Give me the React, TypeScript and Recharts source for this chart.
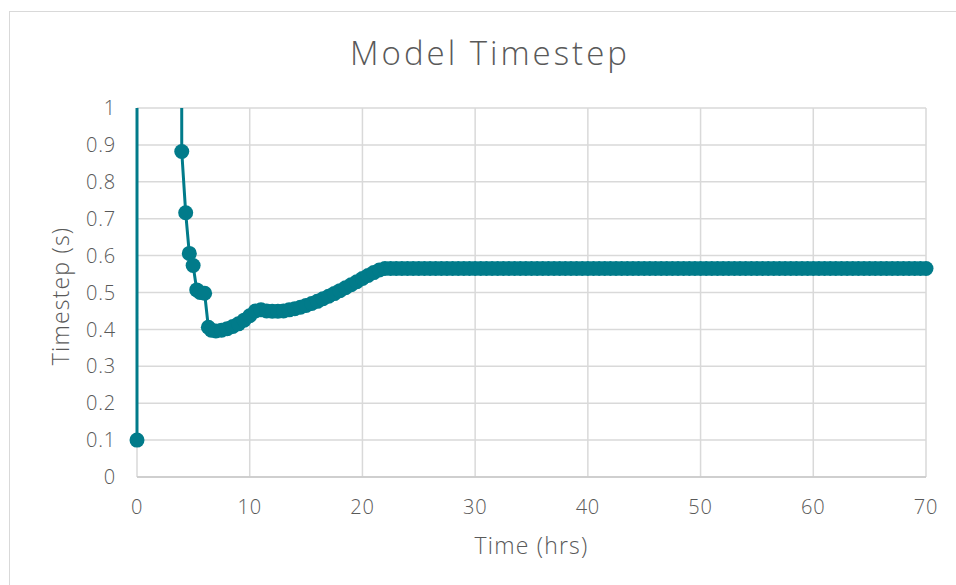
import { CartesianGrid, Line, LineChart, XAxis, YAxis } from "recharts";

// Time axis (hours) and model timestep (seconds).
// The second and third points sit above the 1 s axis limit and are clipped.
const TIME_HRS = [
  0, 0.01, 3.93, 3.97, 4.32, 4.64, 4.98, 5.3, 5.6, 6.0, 6.33, 6.6,
  7.0, 7.5, 8.0, 8.5, 9.0, 9.5, 10.0, 10.5, 11.0, 11.5,
  12.0, 12.5, 13.0, 13.5, 14.0, 14.5, 15.0, 15.5, 16.0, 16.5,
  17.0, 17.5, 18.0, 18.5, 19.0, 19.5, 20.0, 20.5, 21.0, 21.5,
  22.0, 22.5, 23.0, 23.5, 24.0, 24.5, 25.0, 25.5, 26.0, 26.5,
  27.0, 27.5, 28.0, 28.5, 29.0, 29.5, 30.0, 30.5, 31.0, 31.5,
  32.0, 32.5, 33.0, 33.5, 34.0, 34.5, 35.0, 35.5, 36.0, 36.5,
  37.0, 37.5, 38.0, 38.5, 39.0, 39.5, 40.0, 40.5, 41.0, 41.5,
  42.0, 42.5, 43.0, 43.5, 44.0, 44.5, 45.0, 45.5, 46.0, 46.5,
  47.0, 47.5, 48.0, 48.5, 49.0, 49.5, 50.0, 50.5, 51.0, 51.5,
  52.0, 52.5, 53.0, 53.5, 54.0, 54.5, 55.0, 55.5, 56.0, 56.5,
  57.0, 57.5, 58.0, 58.5, 59.0, 59.5, 60.0, 60.5, 61.0, 61.5,
  62.0, 62.5, 63.0, 63.5, 64.0, 64.5, 65.0, 65.5, 66.0, 66.5,
  67.0, 67.5, 68.0, 68.5, 69.0, 69.5, 70.0,
];

const TIMESTEP_S = [
  0.1, 10, 3.0, 0.882, 0.716, 0.606, 0.573, 0.507, 0.5, 0.498, 0.406, 0.398,
  0.396, 0.398, 0.402, 0.408, 0.415, 0.425, 0.437, 0.45, 0.453, 0.45,
  0.449, 0.449, 0.45, 0.453, 0.456, 0.46, 0.465, 0.47, 0.476, 0.483,
  0.49, 0.497, 0.505, 0.513, 0.521, 0.529, 0.538, 0.546, 0.554, 0.561,
  0.565, 0.565, 0.565, 0.565, 0.565, 0.565, 0.565, 0.565, 0.565, 0.565,
  0.565, 0.565, 0.565, 0.565, 0.565, 0.565, 0.565, 0.565, 0.565, 0.565,
  0.565, 0.565, 0.565, 0.565, 0.565, 0.565, 0.565, 0.565, 0.565, 0.565,
  0.565, 0.565, 0.565, 0.565, 0.565, 0.565, 0.565, 0.565, 0.565, 0.565,
  0.565, 0.565, 0.565, 0.565, 0.565, 0.565, 0.565, 0.565, 0.565, 0.565,
  0.565, 0.565, 0.565, 0.565, 0.565, 0.565, 0.565, 0.565, 0.565, 0.565,
  0.565, 0.565, 0.565, 0.565, 0.565, 0.565, 0.565, 0.565, 0.565, 0.565,
  0.565, 0.565, 0.565, 0.565, 0.565, 0.565, 0.565, 0.565, 0.565, 0.565,
  0.565, 0.565, 0.565, 0.565, 0.565, 0.565, 0.565, 0.565, 0.565, 0.565,
  0.565, 0.565, 0.565, 0.565, 0.565, 0.565, 0.565,
];

const X_TICKS = [0, 10, 20, 30, 40, 50, 60, 70];
const Y_TICKS = [0, 0.1, 0.2, 0.3, 0.4, 0.5, 0.6, 0.7, 0.8, 0.9, 1];

const TEAL = "#017b8a";
const TEXT = "#595959";
const GRID = "#d9d9d9";
const FONT = "'Open Sans', sans-serif";

const data = TIME_HRS.map((t, i) => ({ t, v: TIMESTEP_S[i] }));

export default function App() {
  const tickStyle = {
    fill: TEXT,
    fontSize: 20,
    fontFamily: FONT,
    fontWeight: 300,
    letterSpacing: 0.8,
  };

  return (
    <div
      style={{
        position: "absolute",
        left: 0,
        top: 0,
        width: 956,
        height: 585,
        overflow: "hidden",
        background: "#fff",
        fontFamily: FONT,
      }}
    >
      <div
        style={{
          position: "absolute",
          left: 9,
          top: 11,
          width: 1000,
          height: 1000,
          border: `1.5px solid ${GRID}`,
        }}
      />
      <div
        style={{
          position: "absolute",
          left: 0,
          width: 980,
          top: 31,
          textAlign: "center",
          fontSize: 33,
          fontWeight: 300,
          letterSpacing: 3,
          color: TEXT,
          lineHeight: "44px",
        }}
      >
        Model Timestep
      </div>
      <div
        style={{
          position: "absolute",
          left: 137,
          width: 789,
          top: 530,
          textAlign: "center",
          fontSize: 23,
          fontWeight: 300,
          letterSpacing: 1.2,
          color: TEXT,
          lineHeight: "30px",
        }}
      >
        Time (hrs)
      </div>
      <div
        style={{
          position: "absolute",
          left: 60 - 100,
          top: 296 - 15,
          width: 200,
          textAlign: "center",
          fontSize: 23,
          fontWeight: 300,
          letterSpacing: 1.2,
          color: TEXT,
          lineHeight: "30px",
          transform: "rotate(-90deg)",
        }}
      >
        Timestep (s)
      </div>
      <div style={{ position: "absolute", left: 0, top: 0 }}>
        <LineChart
          width={956}
          height={585}
          data={data}
          margin={{ top: 108, right: 30, left: 0, bottom: 48 }}
        >
          <CartesianGrid stroke={GRID} strokeWidth={1.5} />
          <XAxis
            type="number"
            dataKey="t"
            domain={[0, 70]}
            ticks={X_TICKS}
            interval={0}
            height={60}
            axisLine={{ stroke: "#c8c8c8", strokeWidth: 1.5 }}
            tickLine={false}
            tickSize={0}
            tickMargin={23}
            tick={tickStyle}
          />
          <YAxis
            type="number"
            domain={[0, 1]}
            allowDataOverflow
            ticks={Y_TICKS}
            interval={0}
            width={137}
            axisLine={false}
            tickLine={false}
            tickSize={0}
            tickMargin={21}
            tick={tickStyle}
          />
          <Line
            type="linear"
            dataKey="v"
            stroke={TEAL}
            strokeWidth={3}
            dot={{ r: 7.5, fill: TEAL, stroke: "none", clipDot: false }}
            activeDot={false}
            isAnimationActive={false}
          />
        </LineChart>
      </div>
    </div>
  );
}
